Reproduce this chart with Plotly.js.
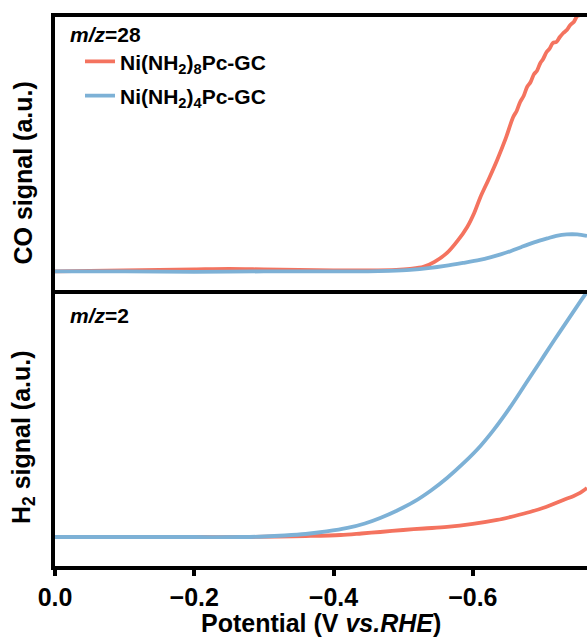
<!DOCTYPE html>
<html>
<head>
<meta charset="utf-8">
<script src="https://cdn.plot.ly/plotly-3.0.1.min.js"></script>
<style>
  html, body { margin: 0; padding: 0; background: #ffffff; }
  #chart { width: 587px; height: 639px; }
</style>
</head>
<body>
<div id="chart"></div>
<script>
// Potential axis (V vs. RHE) and signal traces, arbitrary units

// CO signal (m/z = 28), Ni(NH2)8Pc-GC
const coNH8_V = [0, -0.05, -0.10, -0.15, -0.20, -0.25, -0.30, -0.35, -0.40, -0.45, -0.49, -0.51,
  -0.529, -0.545, -0.563, -0.578, -0.592, -0.602, -0.611, -0.623, -0.635, -0.647, -0.658,
  -0.663, -0.668, -0.673, -0.678, -0.683, -0.688, -0.692, -0.697, -0.701, -0.706, -0.710,
  -0.715, -0.720, -0.725, -0.730, -0.735, -0.740, -0.745, -0.750, -0.754, -0.759, -0.764];
const coNH8 = [20.5, 21, 21.5, 22, 22.5, 23, 22.5, 22, 21.5, 21.5, 22, 23,
  25, 30, 39, 51, 65, 79, 95, 113, 132, 153, 175,
  181, 190, 196, 205, 210, 218, 221, 229, 233, 240, 243,
  249, 250, 255, 259, 262, 267, 270, 276, 277, 283, 288];

// CO signal (m/z = 28), Ni(NH2)4Pc-GC
const coNH4_V = [0, -0.10, -0.20, -0.30, -0.40, -0.45, -0.48, -0.51, -0.539, -0.56, -0.586,
  -0.61, -0.625, -0.64, -0.655, -0.67, -0.688, -0.707, -0.72, -0.735, -0.75, -0.764];
const coNH4 = [20.5, 20.5, 20, 20.5, 20.5, 20.5, 21, 22, 24, 26, 29,
  32, 34.5, 37.5, 41, 45, 49.5, 53.5, 56, 57.5, 57.5, 56];

// H2 signal (m/z = 2), Ni(NH2)8Pc-GC
const h2NH8_V = [0, -0.10, -0.20, -0.28, -0.32, -0.36, -0.41, -0.44, -0.467, -0.50, -0.53,
  -0.563, -0.60, -0.635, -0.66, -0.682, -0.705, -0.73, -0.745, -0.754, -0.764];
const h2NH8 = [31, 31, 31, 31, 31.5, 32, 33, 34.5, 36, 38, 39.5,
  41, 44, 48, 52, 56, 61, 68, 72, 75, 80];

// H2 signal (m/z = 2), Ni(NH2)4Pc-GC
const h2NH4_V = [0, -0.10, -0.20, -0.27, -0.30, -0.33, -0.36, -0.39, -0.42, -0.445, -0.467,
  -0.49, -0.515, -0.54, -0.563, -0.587, -0.611, -0.63, -0.649, -0.664, -0.678, -0.697,
  -0.711, -0.725, -0.74, -0.754, -0.764];
const h2NH4 = [31, 31, 31, 31, 31.5, 32.5, 34, 36.5, 40, 44.5, 50,
  57, 66, 77.5, 90, 105, 122, 138, 156, 171.5, 186.5, 206.5,
  221.5, 236, 251.5, 266, 276];

const xTicks = [0, -0.2, -0.4, -0.6];
const seriesNames = ['Ni(NH<sub>2</sub>)<sub>8</sub>Pc-GC', 'Ni(NH<sub>2</sub>)<sub>4</sub>Pc-GC'];
const panelLabels = ['<i>m/z</i>=28', '<i>m/z</i>=2'];
const yTitles = ['CO signal (a.u.)', 'H<sub>2</sub> signal (a.u.)'];
const xTitle = 'Potential (V <i>vs.RHE</i>)';

const RED = '#F4735F';
const BLUE = '#7DB1D6';
const FONT = 'Liberation Sans, Arial, Helvetica, sans-serif';

function curve(color) {
  return { color: color, width: 3.8, shape: 'spline', smoothing: 0.9 };
}

const traces = [
  { x: coNH8_V, y: coNH8, xaxis: 'x2', yaxis: 'y2', mode: 'lines', name: seriesNames[0],
    line: curve(RED), legendgroup: 'a' },
  { x: coNH4_V, y: coNH4, xaxis: 'x2', yaxis: 'y2', mode: 'lines', name: seriesNames[1],
    line: curve(BLUE), legendgroup: 'b' },
  { x: h2NH8_V, y: h2NH8, xaxis: 'x', yaxis: 'y', mode: 'lines', name: seriesNames[0],
    line: curve(RED), showlegend: false },
  { x: h2NH4_V, y: h2NH4, xaxis: 'x', yaxis: 'y', mode: 'lines', name: seriesNames[1],
    line: curve(BLUE), showlegend: false }
];

const axisLine = { showline: true, linecolor: '#000', linewidth: 4, showgrid: false, zeroline: false };

const layout = {
  width: 587, height: 639,
  margin: { l: 55, r: 0, t: 17, b: 73 },
  paper_bgcolor: '#ffffff', plot_bgcolor: '#ffffff',
  font: { family: FONT, size: 21, color: '#000', weight: 'bold' },
  showlegend: true,
  legend: {
    x: 0.047, xanchor: 'left', y: 0.956, yanchor: 'top',
    bgcolor: 'rgba(0,0,0,0)', borderwidth: 0,
    font: { family: FONT, size: 21, color: '#000', weight: 'bold' },
    traceorder: 'grouped', tracegroupgap: 4
  },
  xaxis: Object.assign({}, axisLine, {
    anchor: 'y', range: [0, -0.764], tickvals: xTicks, tickformat: '.1f',
    ticks: 'outside', ticklen: 6, tickwidth: 4, tickcolor: '#000',
    tickfont: { family: FONT, size: 25, color: '#000', weight: 'bold' }
  }),
  xaxis2: Object.assign({}, axisLine, {
    anchor: 'y2', matches: 'x', range: [0, -0.764], mirror: true,
    showticklabels: false, ticks: ''
  }),
  yaxis: Object.assign({}, axisLine, {
    domain: [0, 0.502], range: [2, 277.5], showticklabels: false, ticks: ''
  }),
  yaxis2: Object.assign({}, axisLine, {
    domain: [0.502, 1], range: [1.5, 275], showticklabels: false, ticks: ''
  }),
  annotations: [
    { text: panelLabels[0], xref: 'paper', yref: 'paper', x: 0.025, y: 0.968,
      xanchor: 'left', yanchor: 'middle', showarrow: false,
      font: { family: FONT, size: 21, color: '#000', weight: 'bold' } },
    { text: panelLabels[1], xref: 'paper', yref: 'paper', x: 0.025, y: 0.457,
      xanchor: 'left', yanchor: 'middle', showarrow: false,
      font: { family: FONT, size: 21, color: '#000', weight: 'bold' } },
    { text: yTitles[0], xref: 'paper', yref: 'paper', x: -0.06, y: 0.715,
      xanchor: 'center', yanchor: 'middle', textangle: -90, showarrow: false,
      font: { family: FONT, size: 25, color: '#000', weight: 'bold' } },
    { text: yTitles[1], xref: 'paper', yref: 'paper', x: -0.06, y: 0.235,
      xanchor: 'center', yanchor: 'middle', textangle: -90, showarrow: false,
      font: { family: FONT, size: 25, color: '#000', weight: 'bold' } },
    { text: xTitle, xref: 'paper', yref: 'paper', x: 0.5, y: -0.103,
      xanchor: 'center', yanchor: 'middle', showarrow: false,
      font: { family: FONT, size: 25, color: '#000', weight: 'bold' } }
  ]
};

Plotly.newPlot('chart', traces, layout, { staticPlot: true, displayModeBar: false });
</script>
</body>
</html>
